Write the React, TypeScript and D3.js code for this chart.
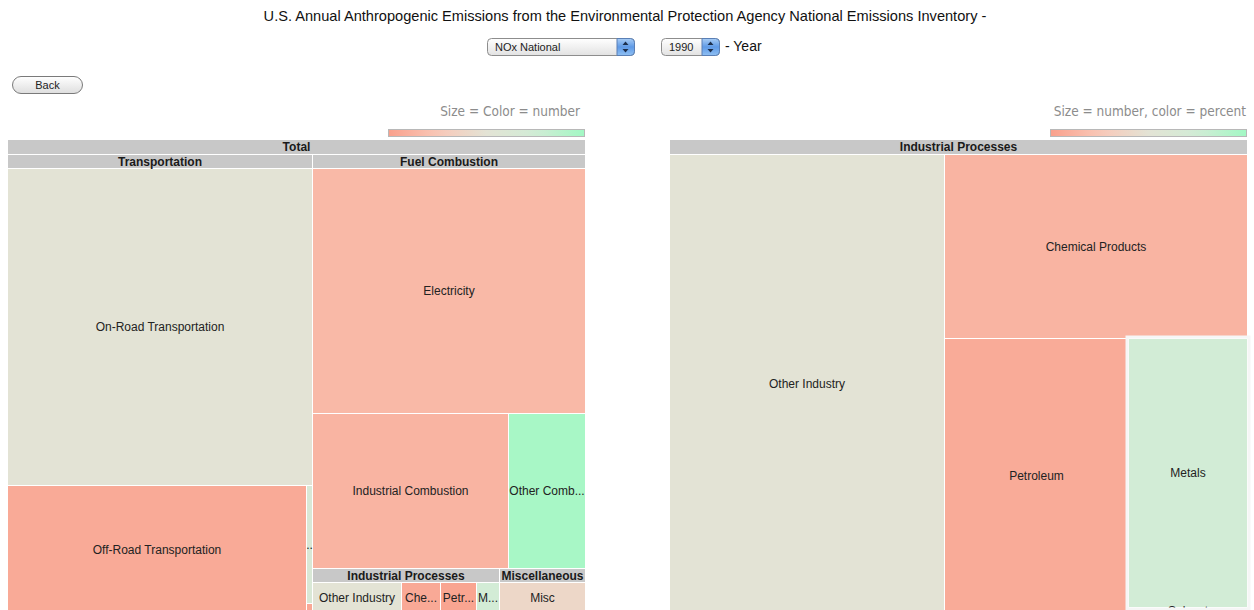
import * as d3 from "d3";
import { useMemo } from "react";

const width = 1254;
const height = 610;

const title =
  "U.S. Annual Anthropogenic Emissions from the Environmental Protection Agency National Emissions Inventory -";
const pollutant = "NOx National";
const year = "1990";

// left map: emissions (thousand short tons); shade runs -1 (red) .. 1 (green)
const sectorNames = ["Transportation", "Fuel Combustion", "Industrial Processes", "Miscellaneous"];
const sourceNames = [
  ["On-Road Transportation", "Off-Road Transportation", "Other Transportation", "Transport Misc"],
  ["Electricity", "Industrial Combustion", "Other Combustion"],
  ["Other Industry", "Chemical Products", "Petroleum", "Metals", "Solvent"],
  ["Misc"],
];
const sourceValues = [
  [9592, 3781, 72, 6],
  [6663, 3035, 1196],
  [382, 168, 153, 97, 2],
  [370],
];
const sourceShades = [
  [0, -0.88, 0.3, -0.9],
  [-0.69, -0.75, 0.94],
  [0, -0.89, -0.94, 0.48, 0.5],
  [-0.22],
];

// right map: drill-down of one sector, colour = percent
const detailSector = "Industrial Processes";
const detailNames = ["Other Industry", "Chemical Products", "Petroleum", "Metals", "Solvent"];
const detailValues = [382, 168, 153, 97, 2];
const detailShades = [0, -0.75, -0.86, 0.5, 0.5];
const highlighted = "Metals";

const shade = d3
  .scaleLinear<string>()
  .domain([-1, -0.5, 0, 0.5, 1])
  .range(["#f9a08c", "#f9c8b8", "#e3e3d5", "#d2ecd6", "#a2f8c4"])
  .clamp(true);

const cellFont = "12px 'Liberation Sans', Arial, sans-serif";
const headFont = "bold 12px 'Liberation Sans', Arial, sans-serif";

let ctx: CanvasRenderingContext2D | null = null;
function measure(s: string, font: string) {
  if (!ctx) ctx = document.createElement("canvas").getContext("2d");
  if (!ctx) return s.length * 6;
  ctx.font = font;
  return ctx.measureText(s).width;
}

function fitLabel(label: string, w: number, font: string) {
  if (measure(label, font) <= w - 1) return label;
  for (let i = label.length - 1; i > 0; i--) {
    const t = label.slice(0, i).trimEnd() + "...";
    if (measure(t, font) <= w + 1) return t;
  }
  return w > 4 ? ".." : "";
}

interface Node {
  name: string;
  value?: number;
  shade?: number;
  children?: Node[];
}

// header band: root a px taller than the nested ones
const headerH = (depth: number) => (depth === 0 ? 14 : 13);

const Treemap = ({ data, x, y, w, h }: { data: Node; x: number; y: number; w: number; h: number }) => {
  const root = useMemo(() => {
    const r = d3
      .hierarchy<Node>(data)
      .sum((d) => d.value ?? 0)
      .sort((a, b) => (b.value ?? 0) - (a.value ?? 0));
    d3
      .treemap<Node>()
      .tile(d3.treemapSquarify.ratio(1))
      .size([w, h])
      .paddingTop((d) => headerH(d.depth) + 1)
      .paddingInner(1)
      .round(true)(r);
    return r as d3.HierarchyRectangularNode<Node>;
  }, [data, w, h]);

  const nodes = root.descendants();
  const hl = root.leaves().find((d) => d.data.name === highlighted && data.name === detailSector);

  return (
    <g transform={`translate(${x},${y})`}>
      {nodes.map((d, i) => {
        const cw = d.x1 - d.x0;
        const ch = d.y1 - d.y0;
        if (d.children) {
          const hh = headerH(d.depth);
          return (
            <g key={i}>
              <rect x={d.x0} y={d.y0} width={cw} height={hh} fill="#c8c8c8" />
              <text
                x={(d.x0 + d.x1) / 2}
                y={d.y0 + hh / 2 + 1}
                textAnchor="middle"
                dominantBaseline="middle"
                fontWeight="bold"
                fontSize={12}
                fill="#1a1a1a"
              >
                {fitLabel(d.data.name, cw, headFont)}
              </text>
            </g>
          );
        }
        return (
          <g key={i}>
            <rect x={d.x0} y={d.y0} width={cw} height={ch} fill={shade(d.data.shade ?? 0)} />
            {cw * ch >= 100 && (
              <text
                x={(d.x0 + d.x1) / 2}
                y={(d.y0 + d.y1) / 2 + 1}
                textAnchor="middle"
                dominantBaseline="middle"
                fontSize={12}
                fill="#222"
              >
                {fitLabel(d.data.name, cw, cellFont)}
              </text>
            )}
          </g>
        );
      })}
      {hl && (
        <rect
          x={hl.x0 - 2}
          y={hl.y0 - 2}
          width={hl.x1 - hl.x0 + 4}
          height={hl.y1 - hl.y0 + 4}
          fill="none"
          stroke="#f6f6f6"
          strokeWidth={3}
        />
      )}
    </g>
  );
};

const Legend = ({ right, barRight, label, id }: { right: number; barRight: number; label: string; id: string }) => {
  const stops = d3.range(0, 1.0001, 0.1);
  return (
    <g>
      <defs>
        <linearGradient id={id} x1="0" x2="1" y1="0" y2="0">
          {stops.map((t) => (
            <stop key={t} offset={t} stopColor={shade(t * 2 - 1)} />
          ))}
        </linearGradient>
      </defs>
      <text
        x={right}
        y={116}
        textAnchor="end"
        fontSize={13.5}
        fill="#8c8c8c"
        style={{ fontFamily: "'DejaVu Sans Condensed', 'Liberation Sans Narrow', 'Liberation Sans', sans-serif" }}
      >
        {label}
      </text>
      <rect x={barRight - 196.5} y={129.5} width={196} height={7} fill={`url(#${id})`} stroke="#b8b8b8" />
    </g>
  );
};

const SelectBox = ({ x, w, label }: { x: number; w: number; label: string }) => (
  <g>
    <rect x={x + 0.5} y={38.5} width={w} height={17} rx={4} fill="url(#selFill)" stroke="#8d8d8d" />
    <path
      d={`M${x + w - 17},38.5 h13.5 a4,4 0 0 1 4,4 v9 a4,4 0 0 1 -4,4 h-13.5 z`}
      fill="url(#selBlue)"
      stroke="#5a7fb5"
    />
    <path d={`M${x + w - 11.5},45 l3,-3.5 l3,3.5 z M${x + w - 11.5},49 l3,3.5 l3,-3.5 z`} fill="#1d2f4c" />
    <text x={x + 8} y={51} fontSize={11} fill="#222">
      {label}
    </text>
  </g>
);

export default function App() {
  const leftData: Node = {
    name: "Total",
    children: sectorNames.map((s, i) => ({
      name: s,
      children: sourceNames[i].map((n, j) => ({ name: n, value: sourceValues[i][j], shade: sourceShades[i][j] })),
    })),
  };
  const rightData: Node = {
    name: detailSector,
    children: detailNames.map((n, j) => ({ name: n, value: detailValues[j], shade: detailShades[j] })),
  };

  return (
    <svg
      width={width}
      height={height}
      viewBox={`0 0 ${width} ${height}`}
      style={{ position: "absolute", left: 0, top: 0, background: "#fff" }}
      fontFamily="'Liberation Sans', Arial, sans-serif"
    >
      <defs>
        <linearGradient id="selFill" x1="0" x2="0" y1="0" y2="1">
          <stop offset="0" stopColor="#ffffff" />
          <stop offset="1" stopColor="#e2e2e2" />
        </linearGradient>
        <linearGradient id="selBlue" x1="0" x2="0" y1="0" y2="1">
          <stop offset="0" stopColor="#a9cdf5" />
          <stop offset="0.5" stopColor="#5f9ae6" />
          <stop offset="1" stopColor="#8fc0f3" />
        </linearGradient>
        <linearGradient id="btnFill" x1="0" x2="0" y1="0" y2="1">
          <stop offset="0" stopColor="#ffffff" />
          <stop offset="1" stopColor="#dedede" />
        </linearGradient>
      </defs>

      <text x={625} y={21} textAnchor="middle" fontSize={14.6} fill="#111">
        {title}
      </text>
      <SelectBox x={487} w={147} label={pollutant} />
      <SelectBox x={661} w={58} label={year} />
      <text x={725} y={51} fontSize={14} fill="#111">
        - Year
      </text>

      <rect x={12.5} y={76.5} width={70} height={17} rx={8.5} fill="url(#btnFill)" stroke="#7a7a7a" />
      <text x={47.5} y={89} textAnchor="middle" fontSize={11} fill="#222">
        Back
      </text>

      <Legend right={580} barRight={585} label="Size = Color = number" id="legL" />
      <Legend right={1246} barRight={1247} label="Size = number, color = percent" id="legR" />

      <Treemap data={leftData} x={8} y={140} w={577} h={473} />
      <Treemap data={rightData} x={670} y={140} w={577} h={473} />
    </svg>
  );
}
